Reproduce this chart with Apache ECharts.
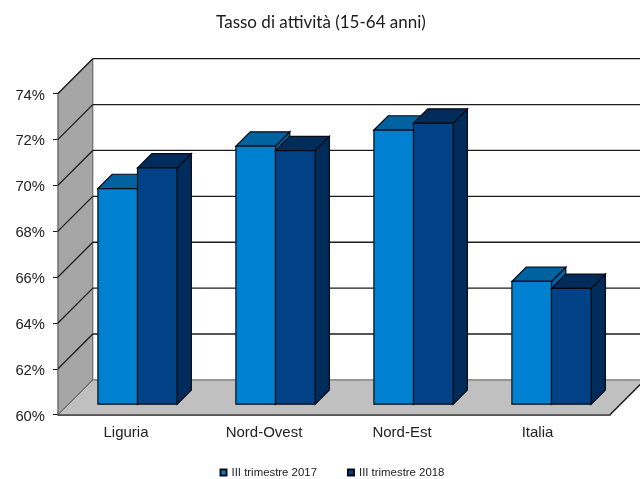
<!DOCTYPE html>
<html><head><meta charset="utf-8">
<style>html,body{margin:0;padding:0;background:#fff}#c{width:640px;height:479px}</style>
<script src="https://cdn.jsdelivr.net/npm/echarts@6/dist/echarts.min.js"></script>
</head><body><div id="c"></div>
<script>
const categories = ['Liguria', 'Nord-Ovest', 'Nord-Est', 'Italia'];
const values2017 = [69.4, 71.25, 71.95, 65.35];
const values2018 = [70.3, 71.05, 72.25, 65.05];
const yTicks = [60, 62, 64, 66, 68, 70, 72, 74];
const seriesNames = ['III trimestre 2017', 'III trimestre 2018'];

const DEPTH = 34.8, BAR_OFFSET = 10.5, BAR_DEPTH = 14.3, BAR_RATIO = 0.287;
const LINE = '#1c1c1c';

function poly(points, fill, stroke, w) {
  return {type: 'polygon', shape: {points}, style: {fill, stroke, lineWidth: w}};
}
function line(a, b, stroke, w) {
  return {type: 'line', shape: {x1: a[0], y1: a[1], x2: b[0], y2: b[1]}, style: {stroke, lineWidth: w, fill: null}};
}
function renderWalls(params, api) {
  const g = params.coordSys;
  const l = g.x, r = g.x + g.width, t = g.y, b = g.y + g.height;
  return {type: 'group', children: [
    poly([[l, t], [l + DEPTH, t - DEPTH], [l + DEPTH, b - DEPTH], [l, b]], '#a6a6a6', '#555', 1),
    poly([[l, b], [l + DEPTH, b - DEPTH], [r + DEPTH, b - DEPTH], [r, b]], '#c0c0c0', '#555', 1),
    line([r, b], [r + DEPTH, b - DEPTH], LINE, 1.4)
  ]};
}
function renderGrid(params, api) {
  const g = params.coordSys;
  const y = api.coord([0, api.value(1)])[1];
  const l = g.x, r = g.x + g.width;
  if (api.value(1) === yTicks[0]) return {type: 'group', children: []};
  return {type: 'group', children: [
    line([l, y], [l + DEPTH, y - DEPTH], LINE, 1.3),
    line([l + DEPTH, y - DEPTH], [r + DEPTH, y - DEPTH], LINE, 1.3)
  ]};
}
function barRenderer(sign, front, top, side) {
  return function (params, api) {
    const p = api.coord([api.value(0), api.value(1)]);
    const base = api.coord([api.value(0), yTicks[0]]);
    const w = api.size([1, 0])[0] * BAR_RATIO;
    const x0 = p[0] + BAR_OFFSET + (sign < 0 ? -w : 0);
    const x1 = x0 + w;
    const yT = p[1] - BAR_OFFSET, yB = base[1] - BAR_OFFSET, d = BAR_DEPTH;
    return {type: 'group', children: [
      poly([[x1, yT], [x1 + d, yT - d], [x1 + d, yB - d], [x1, yB]], side, '#0a0a14', 1.2),
      poly([[x0, yT], [x0 + d, yT - d], [x1 + d, yT - d], [x1, yT]], top, '#0a0a14', 1.2),
      poly([[x0, yT], [x1, yT], [x1, yB], [x0, yB]], front, '#0a0a14', 1.2)
    ]};
  };
}
const chart = echarts.init(document.getElementById('c'), null, {renderer: 'canvas'});
chart.setOption({
  animation: false,
  backgroundColor: '#fff',
  title: {
    text: 'Tasso di attività (15-64 anni)', left: 316, top: 9, textAlign: 'center',
    textStyle: {fontFamily: 'Lato', fontSize: 17, fontWeight: 'normal', color: '#1a1a1a'}
  },
  legend: {
    data: seriesNames, left: 219.5, top: 467, padding: 0, itemWidth: 6, itemHeight: 6, itemGap: 30,
    icon: 'rect',
    textStyle: {fontFamily: 'Liberation Sans', fontSize: 11.4, color: '#222', padding: [0, 0, 0, 0]}
  },
  grid: {left: 58, right: 30, top: 93.5, bottom: 64.3},
  xAxis: {
    type: 'category', data: categories, boundaryGap: true,
    axisLine: {onZero: false, lineStyle: {color: LINE, width: 1.6}},
    axisTick: {alignWithLabel: false, length: 4, lineStyle: {color: LINE, width: 1}},
    axisLabel: {
      margin: 11, fontFamily: 'Liberation Sans', fontSize: 15, color: '#222', padding: [0, 2, 0, 0],
      formatter: v => v === 'Italia' ? '{it|' + v + '}' : v,
      rich: {it: {fontFamily: 'Liberation Sans', fontSize: 15, color: '#222', padding: [0, 5, 0, 0]}}
    },
    splitLine: {show: false}
  },
  yAxis: {
    type: 'value', min: 60, max: 74, interval: 2,
    axisLine: {show: true, lineStyle: {color: LINE, width: 1.4}},
    axisTick: {show: true, length: 5, lineStyle: {color: LINE, width: 1}},
    axisLabel: {
      margin: 13, formatter: '{t|{value}%}',
      rich: {t: {fontFamily: 'Liberation Sans', fontSize: 14.8, color: '#222', padding: [4, 0, 0, 0]}}
    },
    splitLine: {show: false}
  },
  series: [
    {type: 'custom', name: 'walls', renderItem: renderWalls, data: [[0, yTicks[0]]], silent: true, z: 1},
    {type: 'custom', name: 'grid', renderItem: renderGrid, data: yTicks.map(v => [0, v]), silent: true, z: 1},
    {type: 'custom', name: seriesNames[0], z: 3, silent: true,
     itemStyle: {color: '#0080d0', borderColor: '#0a0a14', borderWidth: 1},
     renderItem: barRenderer(-1, '#0080d0', '#00629f', '#00629f'),
     data: categories.map((c, i) => [i, values2017[i]])},
    {type: 'custom', name: seriesNames[1], z: 3, silent: true,
     itemStyle: {color: '#004285', borderColor: '#0a0a14', borderWidth: 1},
     renderItem: barRenderer(1, '#004285', '#002c5c', '#002c5c'),
     data: categories.map((c, i) => [i, values2018[i]])}
  ]
});
</script></body></html>
